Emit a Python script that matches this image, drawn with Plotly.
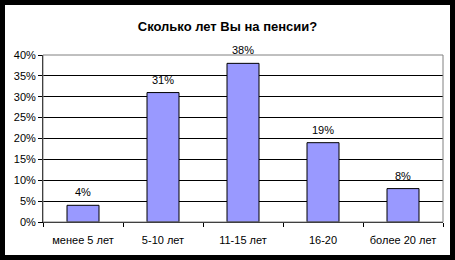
import plotly.graph_objects as go

categories = ["менее 5 лет", "5-10 лет", "11-15 лет", "16-20", "более 20 лет"]
values = [0.04, 0.31, 0.38, 0.19, 0.08]
labels = ["4%", "31%", "38%", "19%", "8%"]
yticks = [0, 0.05, 0.10, 0.15, 0.20, 0.25, 0.30, 0.35, 0.40]
ytick_text = ["0%", "5%", "10%", "15%", "20%", "25%", "30%", "35%", "40%"]
title = "Сколько лет Вы на пенсии?"

L, R, T, B = 43, 12, 55, 38
W, H = 455, 260
pw, ph = W - L - R, H - T - B

def px_x(x):
    return (x - L) / pw

def px_y(y):
    return (H - B - y) / ph

fig = go.Figure()
fig.add_trace(go.Bar(
    x=categories, y=values, width=0.4,
    marker=dict(color="#9999FF", line=dict(color="black", width=1)),
))

annotations = [
    dict(x=c, y=v, text=t, showarrow=False, xref="x", yref="y",
         yanchor="bottom", yshift=5,
         font=dict(family="Liberation Sans, Arial", size=11, color="black"))
    for c, v, t in zip(categories, values, labels)
]

fig.update_layout(
    width=W, height=H,
    margin=dict(l=L, r=R, t=T, b=B),
    paper_bgcolor="black",
    plot_bgcolor="white",
    showlegend=False,
    font=dict(family="Liberation Sans, Arial", size=11, color="black"),
    title=dict(text="<b>" + title + "</b>", x=0.5, xanchor="center",
               y=1 - 26 / H, yanchor="middle",
               font=dict(family="Liberation Sans, Arial", size=13, color="black")),
    annotations=annotations,
    shapes=[
        dict(type="rect", xref="paper", yref="paper", layer="below",
             x0=px_x(5), x1=px_x(450), y0=px_y(255), y1=px_y(5),
             fillcolor="white", line=dict(width=0)),
        dict(type="rect", xref="paper", yref="paper", layer="above",
             x0=0, x1=1, y0=0, y1=1,
             line=dict(color="#808080", width=1)),
    ],
)
fig.update_xaxes(showgrid=False, showline=True, linecolor="black", linewidth=1,
                 ticks="outside", tickson="boundaries", ticklen=4, tickcolor="black",
                 ticklabelstandoff=8, tickfont=dict(size=11))
fig.update_yaxes(range=[0, 0.40], tickvals=yticks, ticktext=ytick_text,
                 showgrid=True, gridcolor="black", gridwidth=1,
                 showline=True, linecolor="black", linewidth=1,
                 ticks="outside", ticklen=4, tickcolor="black",
                 zeroline=False, tickfont=dict(size=11))
fig.write_html("out.html")
